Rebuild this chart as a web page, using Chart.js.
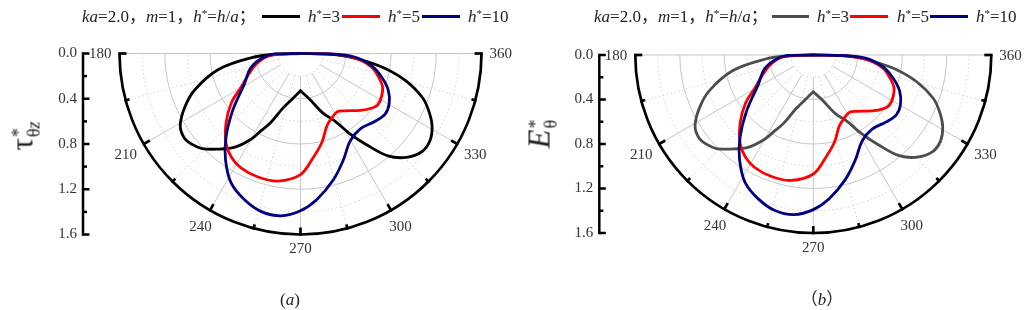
<!DOCTYPE html>
<html>
<head>
<meta charset="utf-8">
<script src="https://cdn.jsdelivr.net/npm/chart.js@4.4.0/dist/chart.umd.min.js"></script>
<style>
  body { margin: 0; background: #fff; width: 1024px; height: 310px; overflow: hidden; position: relative;
         font-family: "Liberation Serif", "Noto Sans CJK SC", serif; color: #222; }
  canvas { position: absolute; top: 0; }
  .t { position: absolute; white-space: nowrap; font-size: 17px; line-height: 1; }
  .ln { position: absolute; height: 0; border-top: 3px solid; }
  sup { font-size: 0.65em; vertical-align: 0.45em; line-height: 0; }
  .ttl { position: absolute; white-space: nowrap; line-height: 1; transform: translate(-50%, -50%) rotate(-90deg); }
  .big { font-size: 31px; }
  .stk { display: inline-block; vertical-align: -7px; line-height: 15px; font-size: 18px; margin-left: 1px; }
  .stk span { display: block; }
</style>
</head>
<body>
<script>
// curve values: angle (deg) and radius
const blackTheta = [180, 181.5, 185, 191, 199, 205, 211, 216, 220, 224, 229, 235, 240, 243, 246.5, 252, 260.5, 270,
                    281.5, 290.5, 297, 301.5, 306, 310.5, 315.5, 321, 326, 331, 335.5, 340, 345.5, 350, 354, 357, 359.2, 360];
const blackR     = [0, 0.21, 0.44, 0.74, 0.99, 1.13, 1.24, 1.27, 1.25, 1.21, 1.12, 1.01, 0.875, 0.765, 0.67, 0.51, 0.40, 0.33,
                    0.415, 0.56, 0.67, 0.83, 1.00, 1.19, 1.31, 1.38, 1.38, 1.33, 1.25, 1.15, 0.96, 0.76, 0.54, 0.38, 0.22, 0];

const redTheta = [180, 183.8, 192.3, 202.3, 209.4, 215.5, 223, 230.2, 236.1, 242.5, 251, 260, 270, 276.8, 283.7, 290.1,
                  296.4, 302.7, 307.7, 316.5, 322.7, 326.4, 332.5, 338.3, 343.3, 348.7, 353, 356, 359, 360];
const redR     = [0, 0.27, 0.39, 0.50, 0.60, 0.75, 0.90, 1.03, 1.10, 1.14, 1.155, 1.145, 1.07, 0.93, 0.805, 0.68,
                  0.63, 0.61, 0.64, 0.73, 0.795, 0.82, 0.81, 0.78, 0.72, 0.65, 0.55, 0.44, 0.29, 0];

const blueTheta = [180, 181, 186.7, 196.3, 208.1, 219.9, 228.3, 234.8, 241.9, 249.2, 256.1, 263.2, 270, 276.3, 284.5,
                   291.9, 299.5, 308.2, 317.5, 324.4, 330.6, 337.4, 343.6, 350.2, 356.5, 359, 360];
const blueR     = [0, 0.23, 0.34, 0.46, 0.56, 0.78, 0.99, 1.15, 1.30, 1.386, 1.44, 1.445, 1.39, 1.30, 1.155,
                   1.015, 0.89, 0.85, 0.89, 0.92, 0.90, 0.84, 0.75, 0.64, 0.47, 0.26, 0];

const radialTicks = [0, 0.4, 0.8, 1.2, 1.6];
const angleTicks = [180, 210, 240, 270, 300, 330, 360];

const seriesLabels = ['<i>h</i><sup>*</sup>=3', '<i>h</i><sup>*</sup>=5', '<i>h</i><sup>*</sup>=10'];
const legendPrefix = '<i>ka</i>=2.0，<i>m</i>=1，<i>h</i><sup>*</sup>=<i>h</i>/<i>a</i>；';
const captions = ['(<i>a</i>)', '（<i>b</i>）'];
const axisTitles = ['<span class="big">τ</span><span class="stk"><span>*</span><span>θ<i>z</i></span></span>',
                    '<span class="big"><i>E</i></span><span class="stk"><span>*</span><span>θ</span></span>'];

const rMax = radialTicks[radialTicks.length - 1];
const rad = d => d * Math.PI / 180;

function toXY(thetas, rs) {
  return thetas.map((t, i) => ({ x: rs[i] * Math.cos(rad(t)), y: -rs[i] * Math.sin(rad(t)) }));
}

// grid, outer arc and left axis of the half-polar frame
const polarFrame = {
  id: 'polarFrame',
  beforeDatasetsDraw(chart) {
    const { ctx, scales: { x, y } } = chart;
    const cx = x.getPixelForValue(0), cy = y.getPixelForValue(0);
    const k = x.getPixelForValue(1) - cx;
    const R = rMax * k;
    const step = radialTicks[1] / 2;
    ctx.save();
    ctx.lineWidth = 1;
    for (let r = step; r < rMax - 1e-6; r += step) {
      const major = Math.abs(r / radialTicks[1] - Math.round(r / radialTicks[1])) < 1e-6;
      ctx.strokeStyle = major ? '#c6c6c6' : '#d2d2d2';
      ctx.setLineDash(major ? [] : [1.5, 2.5]);
      ctx.beginPath();
      ctx.arc(cx, cy, r * k, 0, Math.PI);
      ctx.stroke();
    }
    for (let a = 195; a < 360; a += 15) {
      const major = a % 30 === 0;
      ctx.strokeStyle = major ? '#c6c6c6' : '#d2d2d2';
      ctx.setLineDash(major ? [] : [1.5, 2.5]);
      const c = Math.cos(rad(a)), s = -Math.sin(rad(a));
      ctx.beginPath();
      ctx.moveTo(cx + c * step * k, cy + s * step * k);
      ctx.lineTo(cx + c * R, cy + s * R);
      ctx.stroke();
    }
    ctx.setLineDash([]);
    ctx.strokeStyle = '#c6c6c6';
    ctx.beginPath();
    ctx.moveTo(cx - R, cy);
    ctx.lineTo(cx + R, cy);
    ctx.stroke();
    ctx.restore();
  },
  afterDraw(chart) {
    const { ctx, scales: { x, y } } = chart;
    const cx = x.getPixelForValue(0), cy = y.getPixelForValue(0);
    const k = x.getPixelForValue(1) - cx;
    const R = rMax * k;
    ctx.save();
    ctx.strokeStyle = '#000';
    ctx.lineWidth = 2.7;
    ctx.beginPath();
    ctx.arc(cx, cy, R, 0, Math.PI);
    ctx.stroke();
    // angular ticks, inward
    for (let a = 180; a <= 360; a += 15) {
      const len = a % 30 === 0 ? 7 : 4;
      const c = Math.cos(rad(a)), s = -Math.sin(rad(a));
      ctx.beginPath();
      ctx.moveTo(cx + c * (R + 1.3), cy + s * (R + 1.3));
      ctx.lineTo(cx + c * (R - len), cy + s * (R - len));
      ctx.stroke();
    }
    // angle labels
    ctx.fillStyle = '#333';
    ctx.font = '15px "Liberation Serif"';
    ctx.textAlign = 'center';
    ctx.textBaseline = 'middle';
    angleTicks.forEach(a => {
      const txt = String(a);
      const hw = ctx.measureText(txt).width / 2, hh = 6;
      const c = Math.cos(rad(a)), s = -Math.sin(rad(a));
      const d = R + 8 + Math.abs(c) * hw + Math.abs(s) * hh;
      ctx.fillText(txt, cx + c * d, cy + s * d + 1);
    });
    // left radial axis with inward ticks
    const ax = chart.chartArea.left;
    ctx.lineWidth = 2.5;
    ctx.beginPath();
    ctx.moveTo(ax, y.getPixelForValue(0) - 1.2);
    ctx.lineTo(ax, y.getPixelForValue(rMax) + 1.2);
    ctx.stroke();
    const st = radialTicks[1] / 2;
    for (let v = 0; v <= rMax + 1e-6; v += st) {
      const major = Math.abs(v / radialTicks[1] - Math.round(v / radialTicks[1])) < 1e-6;
      const py = y.getPixelForValue(v);
      ctx.beginPath();
      ctx.moveTo(ax, py);
      ctx.lineTo(ax + (major ? 6.5 : 4), py);
      ctx.stroke();
    }
    ctx.restore();
  }
};

const panels = [
  { left: 0, width: 530, axisX: 83, cx: 300.5, cy: 53.5, R: 181, black: '#000000',
    prefixX: 82, lines: [[262, 300], [342, 380], [422, 460]], labelX: [308, 388, 468],
    titleX: 24, titleY: 136, capX: 290 },
  { left: 512, width: 512, axisX: 87.3, cx: 301.3, cy: 55, R: 178, black: '#4d4d4d',
    prefixX: 82, lines: [[260, 297], [338, 376], [418, 456]], labelX: [305, 385, 464],
    titleX: 29, titleY: 134, capX: 310 }
];

function addDiv(cls, html, left, top, style) {
  const d = document.createElement('div');
  d.className = cls;
  d.innerHTML = html;
  d.style.left = left + 'px';
  d.style.top = top + 'px';
  if (style) Object.assign(d.style, style);
  document.body.appendChild(d);
  return d;
}

panels.forEach((p, pi) => {
  const cv = document.createElement('canvas');
  cv.width = p.width;
  cv.height = 310;
  cv.style.left = p.left + 'px';
  document.body.appendChild(cv);

  const k = p.R / rMax;
  const areaRight = p.cx + p.R + 14;
  const colors = [p.black, '#ff0000', '#000080'];
  const split = blackTheta.indexOf(270);
  const line = (data, color) => ({
    data, showLine: true, borderColor: color, borderWidth: 2.8, pointRadius: 0,
    tension: 0.35, clip: false, borderCapStyle: 'round', borderJoinStyle: 'round'
  });

  new Chart(cv, {
    type: 'scatter',
    data: {
      datasets: [
        line(toXY(blueTheta, blueR), colors[2]),
        line(toXY(redTheta, redR), colors[1]),
        line(toXY(blackTheta.slice(0, split + 1), blackR.slice(0, split + 1)), colors[0]),
        line(toXY(blackTheta.slice(split), blackR.slice(split)), colors[0])
      ]
    },
    options: {
      responsive: false,
      animation: false,
      devicePixelRatio: 1,
      layout: { padding: { top: p.cy, bottom: 310 - p.cy - p.R, left: 0, right: p.width - areaRight } },
      plugins: { legend: { display: false }, tooltip: { enabled: false } },
      scales: {
        x: { type: 'linear', display: false, bounds: 'data',
             min: -(p.cx - p.axisX) / k, max: (areaRight - p.cx) / k },
        y: { type: 'linear', reverse: true, min: 0, max: rMax, bounds: 'data',
             afterFit: s => { s.width = p.axisX; },
             grid: { display: false, drawTicks: false }, border: { display: false },
             ticks: { stepSize: radialTicks[1], padding: 6, color: '#333',
                      font: { family: 'Liberation Serif', size: 15 },
                      callback: v => Number(v).toFixed(1) } }
      }
    },
    plugins: [polarFrame]
  });

  // legend
  addDiv('t', legendPrefix, p.left + p.prefixX, 7.6);
  p.lines.forEach((l, i) => {
    addDiv('ln', '', p.left + l[0], 14.5, { width: (l[1] - l[0]) + 'px', borderTopColor: colors[i] });
    addDiv('t', seriesLabels[i], p.left + p.labelX[i], 7.6);
  });
  // axis title and caption
  addDiv('ttl', axisTitles[pi], p.left + p.titleX, p.titleY);
  addDiv('t', captions[pi], p.left + p.capX, 291, { transform: 'translateX(-50%)' });
});
</script>
</body>
</html>
